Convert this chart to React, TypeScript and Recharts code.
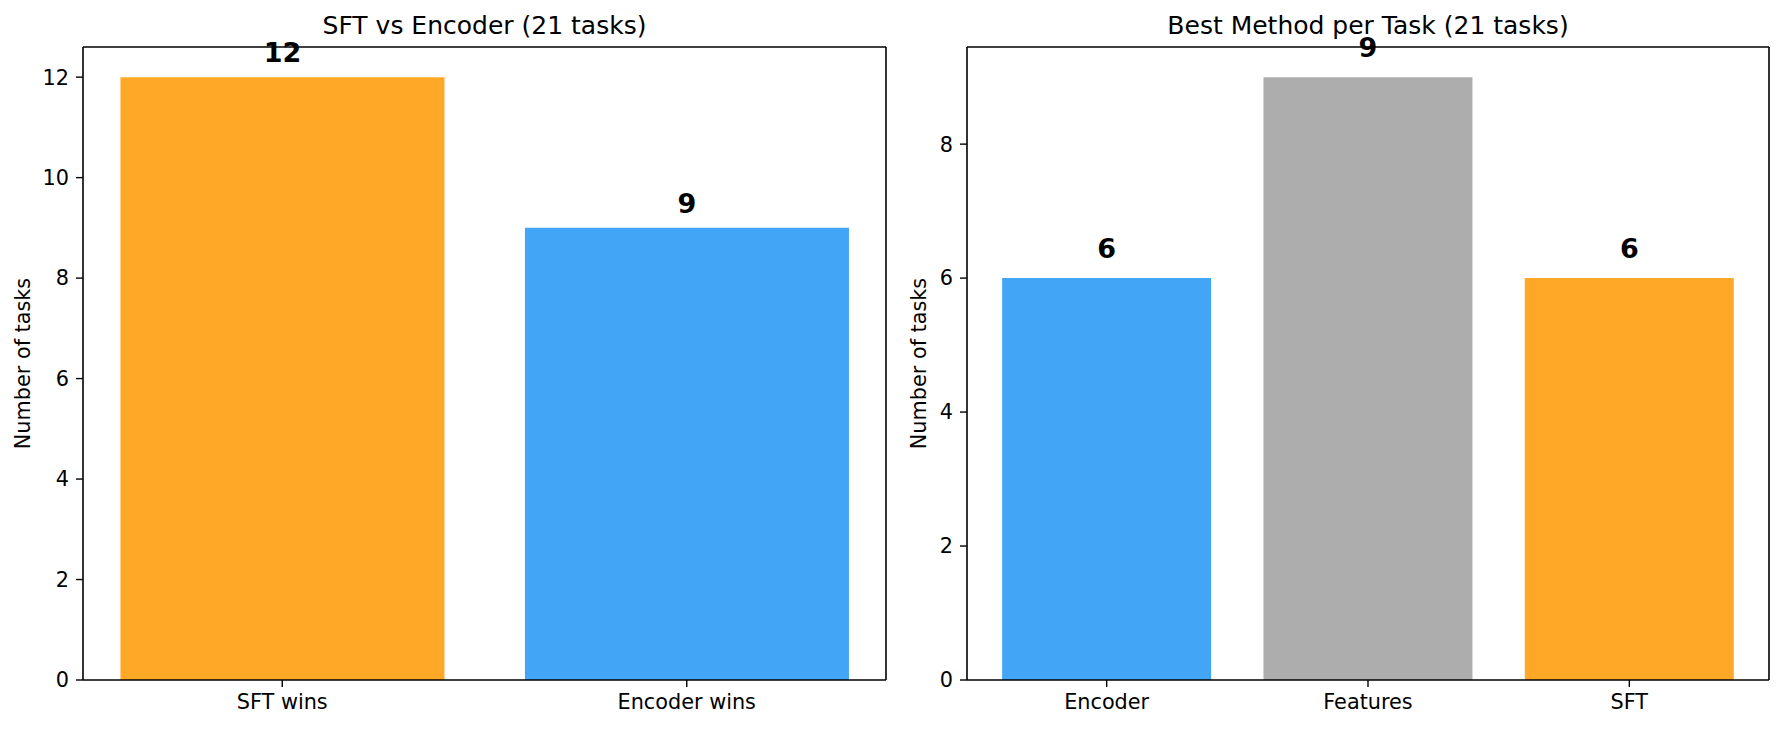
import { BarChart, Bar, XAxis, YAxis, Cell, LabelList, ReferenceArea } from "recharts";

const FONT = "DejaVu Sans";

const leftCategories = ["SFT wins", "Encoder wins"];
const leftValues = [12, 9];
const leftColors = ["#FFA726", "#42A5F5"];
const leftTicks = [0, 2, 4, 6, 8, 10, 12];

const rightCategories = ["Encoder", "Features", "SFT"];
const rightValues = [6, 9, 6];
const rightColors = ["#42A5F5", "#ADADAD", "#FFA726"];
const rightTicks = [0, 2, 4, 6, 8];

const PLOT_TOP = 47;
const PLOT_BOTTOM = 680;
const HEIGHT = 732;

interface PanelProps {
  title: string;
  categories: string[];
  values: number[];
  colors: string[];
  ticks: number[];
  yMax: number;
  width: number;
  yAxisWidth: number;
  rightMargin: number;
  ylabelX: number;
  xPad: number;
}

function Panel({
  title,
  categories,
  values,
  colors,
  ticks,
  yMax,
  width,
  yAxisWidth,
  rightMargin,
  ylabelX,
  xPad,
}: PanelProps) {
  const data = categories.map((name, i) => ({ name, value: values[i] }));
  const plotH = PLOT_BOTTOM - PLOT_TOP;
  // matplotlib text sits at value + 0.3 in data units
  const labelLift = (0.3 / yMax) * plotH;
  const tickStyle = { fill: "#000", fontSize: 20.8, fontFamily: FONT };
  const midY = (PLOT_TOP + PLOT_BOTTOM) / 2;
  const spine = { stroke: "#000", strokeWidth: 1.6 };

  return (
    <BarChart
      width={width}
      height={HEIGHT}
      data={data}
      margin={{ top: PLOT_TOP - 1, right: rightMargin - 1, left: 0, bottom: 22 }}
      barCategoryGap="10%"
    >
      <XAxis
        dataKey="name"
        height={30}
        padding={{ left: xPad, right: xPad }}
        tick={tickStyle}
        tickSize={7}
        tickMargin={7}
        axisLine={spine}
        tickLine={{ stroke: "#000", strokeWidth: 1.4 }}
      />
      <XAxis
        xAxisId="top"
        dataKey="name"
        orientation="top"
        height={1}
        padding={{ left: xPad, right: xPad }}
        tick={false}
        tickLine={false}
        axisLine={spine}
      />
      <YAxis
        width={yAxisWidth}
        domain={[0, yMax]}
        ticks={ticks}
        tick={tickStyle}
        tickSize={7}
        tickMargin={7}
        axisLine={spine}
        tickLine={{ stroke: "#000", strokeWidth: 1.4 }}
        label={() => (
          <text
            x={ylabelX}
            y={midY}
            transform={`rotate(-90 ${ylabelX} ${midY})`}
            textAnchor="middle"
            dominantBaseline="central"
            fontSize={20.8}
            fontFamily={FONT}
            fill="#000"
          >
            Number of tasks
          </text>
        )}
      />
      <YAxis
        yAxisId="right"
        orientation="right"
        width={1}
        domain={[0, yMax]}
        tick={false}
        tickLine={false}
        axisLine={spine}
      />
      <Bar dataKey="value" isAnimationActive={false}>
        {data.map((d, i) => (
          <Cell key={d.name} fill={colors[i]} />
        ))}
        <LabelList
          dataKey="value"
          content={(props: any) => {
            const { x, y, width: w, value } = props;
            return (
              <text
                x={Number(x) + Number(w) / 2}
                y={Number(y) - labelLift}
                textAnchor="middle"
                fontSize={27}
                fontWeight="bold"
                fontFamily={FONT}
                fill="#000"
              >
                {value}
              </text>
            );
          }}
        />
      </Bar>
      <ReferenceArea
        y1={0}
        y2={yMax}
        fill="none"
        fillOpacity={0}
        stroke="none"
        label={{
          value: title,
          position: "top",
          offset: 13,
          fill: "#000",
          fontSize: 25,
          fontFamily: FONT,
        }}
      />
    </BarChart>
  );
}

export default function App() {
  return (
    <div
      style={{
        position: "absolute",
        left: 0,
        top: 0,
        width: 1784,
        height: HEIGHT,
        background: "#fff",
        display: "flex",
      }}
    >
      <Panel
        title="SFT vs Encoder (21 tasks)"
        categories={leftCategories}
        values={leftValues}
        colors={leftColors}
        ticks={leftTicks}
        yMax={12.6}
        width={900}
        yAxisWidth={83}
        rightMargin={14}
        ylabelX={23}
        xPad={-3}
      />
      <Panel
        title="Best Method per Task (21 tasks)"
        categories={rightCategories}
        values={rightValues}
        colors={rightColors}
        ticks={rightTicks}
        yMax={9.45}
        width={884}
        yAxisWidth={67}
        rightMargin={15}
        ylabelX={19}
        xPad={9}
      />
    </div>
  );
}
